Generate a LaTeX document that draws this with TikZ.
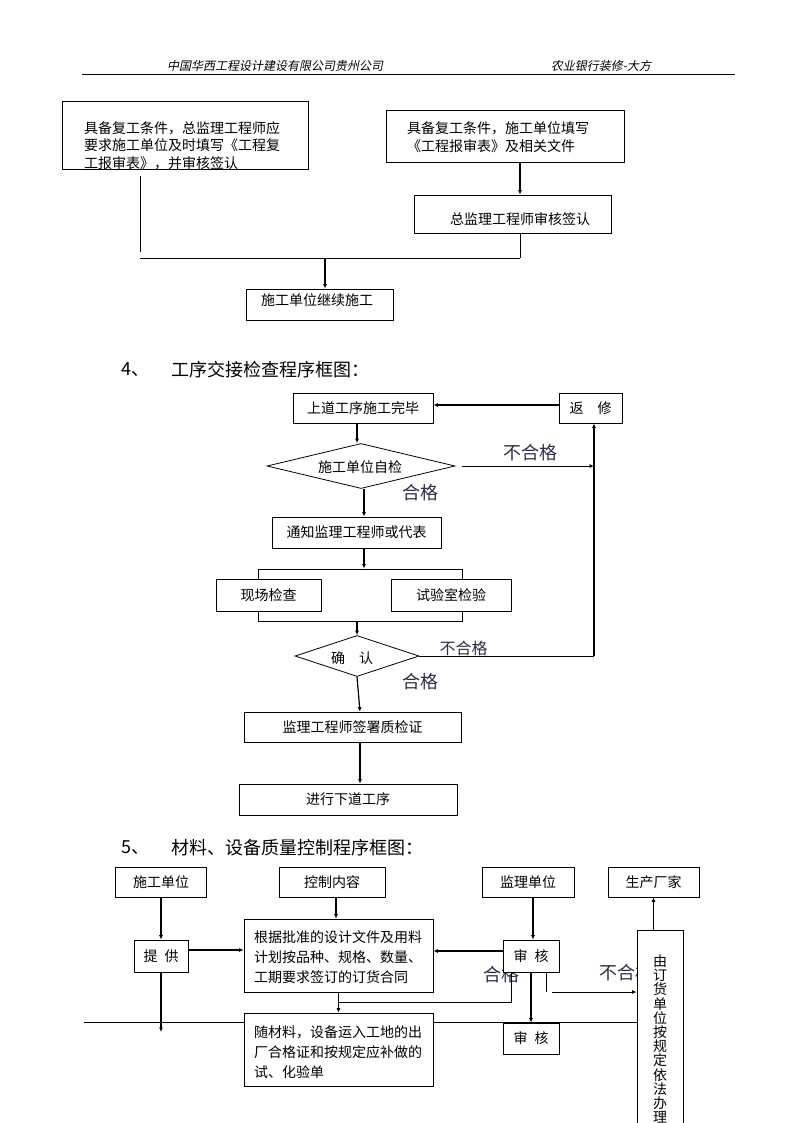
\documentclass[tikz,border=0pt]{standalone}
\usepackage{fontspec}
\setmainfont{Noto Sans CJK SC}
\newfontfamily\hdrfont[FakeSlant=0.2]{Noto Sans CJK SC}
\usetikzlibrary{arrows.meta,shapes.geometric,calc}
\definecolor{lbl}{RGB}{45,45,70}
\begin{document}
\begin{tikzpicture}[x=1pt,y=-1pt,
  box/.style={draw, line width=0.8pt, fill=white, inner sep=0pt, font=\fontsize{14}{17}\selectfont},
  dia/.style={draw, diamond, line width=0.8pt, fill=white, inner sep=0pt},
  thk/.style={line width=1.6pt},
  thn/.style={line width=0.8pt},
  mid/.style={line width=1.2pt},
  arr/.style={-{Latex[length=4.5pt,width=4pt]}},
  txt/.style={inner sep=0pt, anchor=west, align=left},
  plain/.style={inner sep=0pt, font=\fontsize{14}{17}\selectfont},
  big/.style={inner sep=0pt, font=\fontsize{18}{20}\selectfont, text=lbl},
  head/.style={inner sep=0pt, anchor=west, font=\fontsize{18}{20}\selectfont},
  hdr/.style={inner sep=0pt, font=\hdrfont\fontsize{12}{14}\selectfont},
]
\useasboundingbox (0,0) rectangle (794,1123);
\fill[white] (0,0) rectangle (794,1123);

% header
\node[hdr] (h1) at (275,66) {中国华西工程设计建设有限公司贵州公司};
\node[hdr] (h2) at (601,66) {农业银行装修-大方};
\coordinate (hl) at (82,74);
\coordinate (hr) at (735,74);
\draw[thn] (hl) -- (hr);

% ---------- top section
\node[box, minimum width=246, minimum height=68] (A) at (185,135) {};
\node[txt, font=\fontsize{14}{17.5}\selectfont] (At) at (84,145.5) {具备复工条件，总监理工程师应\\要求施工单位及时填写《工程复\\工报审表》，并审核签认};
\node[box, minimum width=238, minimum height=52] (B) at (505,136) {};
\node[txt, font=\fontsize{14}{18}\selectfont] (Bt) at (407,137) {具备复工条件，施工单位填写\\《工程报审表》及相关文件};
\node[box, minimum width=197, minimum height=38] (C) at (512.5,214) {};
\node[txt, font=\fontsize{14}{17}\selectfont] (Ct) at (450,219) {总监理工程师审核签认};
\node[box, minimum width=147, minimum height=31] (D) at (319.5,304.5) {};
\node[txt, font=\fontsize{14}{17}\selectfont] (Dt) at (261,300) {施工单位继续施工};

\draw[thk,arr] ([xshift=15pt]B.south) -- ([xshift=15pt]B.south |- C.north);
\coordinate (j1) at (140,258);
\coordinate (j2) at (520,258);
\coordinate (j3) at (325,258);
\coordinate (la) at (140,176);
\coordinate (lb) at (140,252);
\draw[thn] ([xshift=7.5pt]C.south) -- (j2);
\draw[thn] (la) -- (lb);
\draw[thn] (j1) -- (j2);
\draw[thk,arr] (j3) -- (j3 |- D.north);

% ---------- section 4
\node[head] (s4n) at (121,370) {4、};
\node[head] (s4t) at (171,370) {工序交接检查程序框图：};

\node[box, minimum width=140, minimum height=30] (sd) at (363,408) {上道工序施工完毕};
\node[box, minimum width=63, minimum height=30] (rf) at (590.5,408) {返　修};
\node[dia, minimum width=188, minimum height=45] (zj) at (361,466) {};
\node[plain] (zjt) at (360,467) {施工单位自检};
\node[box, minimum width=169, minimum height=31] (tz) at (356.5,532.5) {通知监理工程师或代表};
\node[draw, thn, inner sep=0pt, minimum width=204, minimum height=52] (rt) at (360,595) {};
\node[box, minimum width=105, minimum height=32] (xc) at (268.5,595) {现场检查};
\node[box, minimum width=120, minimum height=32] (sy) at (451,595) {试验室检验};
\node[dia, minimum width=124, minimum height=41] (qr) at (357,656) {};
\node[plain] (qrt) at (352,658) {确　认};
\node[box, minimum width=217, minimum height=30] (jl) at (352.5,727) {监理工程师签署质检证};
\node[box, minimum width=218, minimum height=31] (jx) at (348,799.5) {进行下道工序};

\node[big] (l1) at (530,453) {不合格};
\node[big] (l2) at (420,493) {合格};
\node[inner sep=0pt, font=\fontsize{16}{18}\selectfont, text=lbl] (l3) at (463.5,648) {不合格};
\node[big] (l4) at (420,682) {合格};

\coordinate (rc) at (594,656);
\coordinate (n1) at (462,466);
\draw[thk,arr] ([yshift=3pt]rf.west) -- ([yshift=3pt]rf.west -| sd.east);
\draw[thk,arr] ([xshift=-6pt]sd.south) -- ([xshift=-6pt]sd.south |- zj.north);
\draw[thn,arr] (n1) -- (n1 -| rc);
\draw[thk,arr] ([xshift=3pt]zj.south) -- ([xshift=3pt]zj.south |- tz.north);
\draw[thk,arr] ([xshift=7.5pt]tz.south) -- ([xshift=7.5pt]tz.south |- rt.north);
\draw[thk,arr] ([xshift=-3pt]rt.south) -- ([xshift=-3pt]rt.south |- qr.north);
\draw[line width=1pt] (qr.east) -- (rc);
\draw[thk,arr] (rc) -- (rc |- rf.south);
\draw[mid,arr] (qr.south) -- ([xshift=7.5pt]jl.north);
\draw[thk,arr] ([xshift=7.5pt]jl.south) -- ([xshift=7.5pt]jl.south |- jx.north);

% ---------- section 5
\node[head] (s5n) at (121,848) {5、};
\node[head] (s5t) at (171,848) {材料、设备质量控制程序框图：};

\node[big] (l5) at (501,975) {合格};
\node[big, anchor=west] (l6) at (599,973) {不合格};

\node[box, minimum width=46, minimum height=220] (dh) at (660,1040) {};
\node[inner sep=0pt, align=center, font={\fontsize{14}{14.2}\selectfont\lineskiplimit=-20pt}] (dht) at (660,1039) {由\\订\\货\\单\\位\\按\\规\\定\\依\\法\\办\\理};

\coordinate (L0) at (84,1022);
\draw[thn] (L0) -- (L0 -| dh.west);

\node[box, minimum width=91, minimum height=30] (sg) at (161,882) {施工单位};
\node[box, minimum width=106, minimum height=30] (kz) at (332,882) {控制内容};
\node[box, minimum width=92, minimum height=30] (jd) at (528,882) {监理单位};
\node[box, minimum width=91, minimum height=30] (sc2) at (653.5,882) {生产厂家};
\node[box, minimum width=54, minimum height=32] (tg) at (161,956) {提\hspace{0.5em}供};
\node[box, minimum width=189, minimum height=73] (gj) at (338.5,955.5) {};
\node[txt, font=\fontsize{14}{20}\selectfont] (gjt) at (254,957) {根据批准的设计文件及用料\\计划按品种、规格、数量、\\工期要求签订的订货合同};
\node[box, minimum width=56, minimum height=32] (sh1) at (531,956) {审\hspace{0.5em}核};
\node[box, minimum width=56, minimum height=31] (sh2) at (531,1038.5) {审\hspace{0.5em}核};
\node[box, minimum width=189, minimum height=73] (sc) at (338.5,1049.5) {};
\node[txt, font=\fontsize{14}{20}\selectfont] (sct) at (254,1052) {随材料，设备运入工地的出\\厂合格证和按规定应补做的\\试、化验单};

\coordinate (t2) at (161,1032);
\coordinate (h2) at (511,1002);
\coordinate (v1) at (546,992);
\coordinate (v2) at (552,992);
\draw[thk,arr] (sg) -- (tg);
\draw[thk,arr] (tg.south) -- (t2);
\draw[thk,arr] ([yshift=6pt]tg.east) -- ([yshift=6pt]tg.east -| gj.west);
\draw[thk,arr] ([xshift=4pt]kz.south) -- ([xshift=4pt]kz.south |- gj.north);
\draw[thk,arr] ([xshift=5pt]jd.south) -- ([xshift=5pt]jd.south |- sh1.north);
\draw[thk,arr] ([yshift=5pt]sh1.west) -- ([yshift=5pt]sh1.west -| gj.east);
\draw[thk,arr] (sh1) -- (sh2);
\draw[thk,arr] (gj) -- (sc);
\draw[thn] ([xshift=-20pt]sh1.south) -- (h2) -- (h2 -| gj.south);
\draw[thn] ([xshift=15pt]sh1.south) -- (v1);
\draw[thn,arr] (v2) -- (v2 -| dh.west);
\draw[thk,arr] (dh.north -| sc2.south) -- (sc2.south);
\end{tikzpicture}
\end{document}
